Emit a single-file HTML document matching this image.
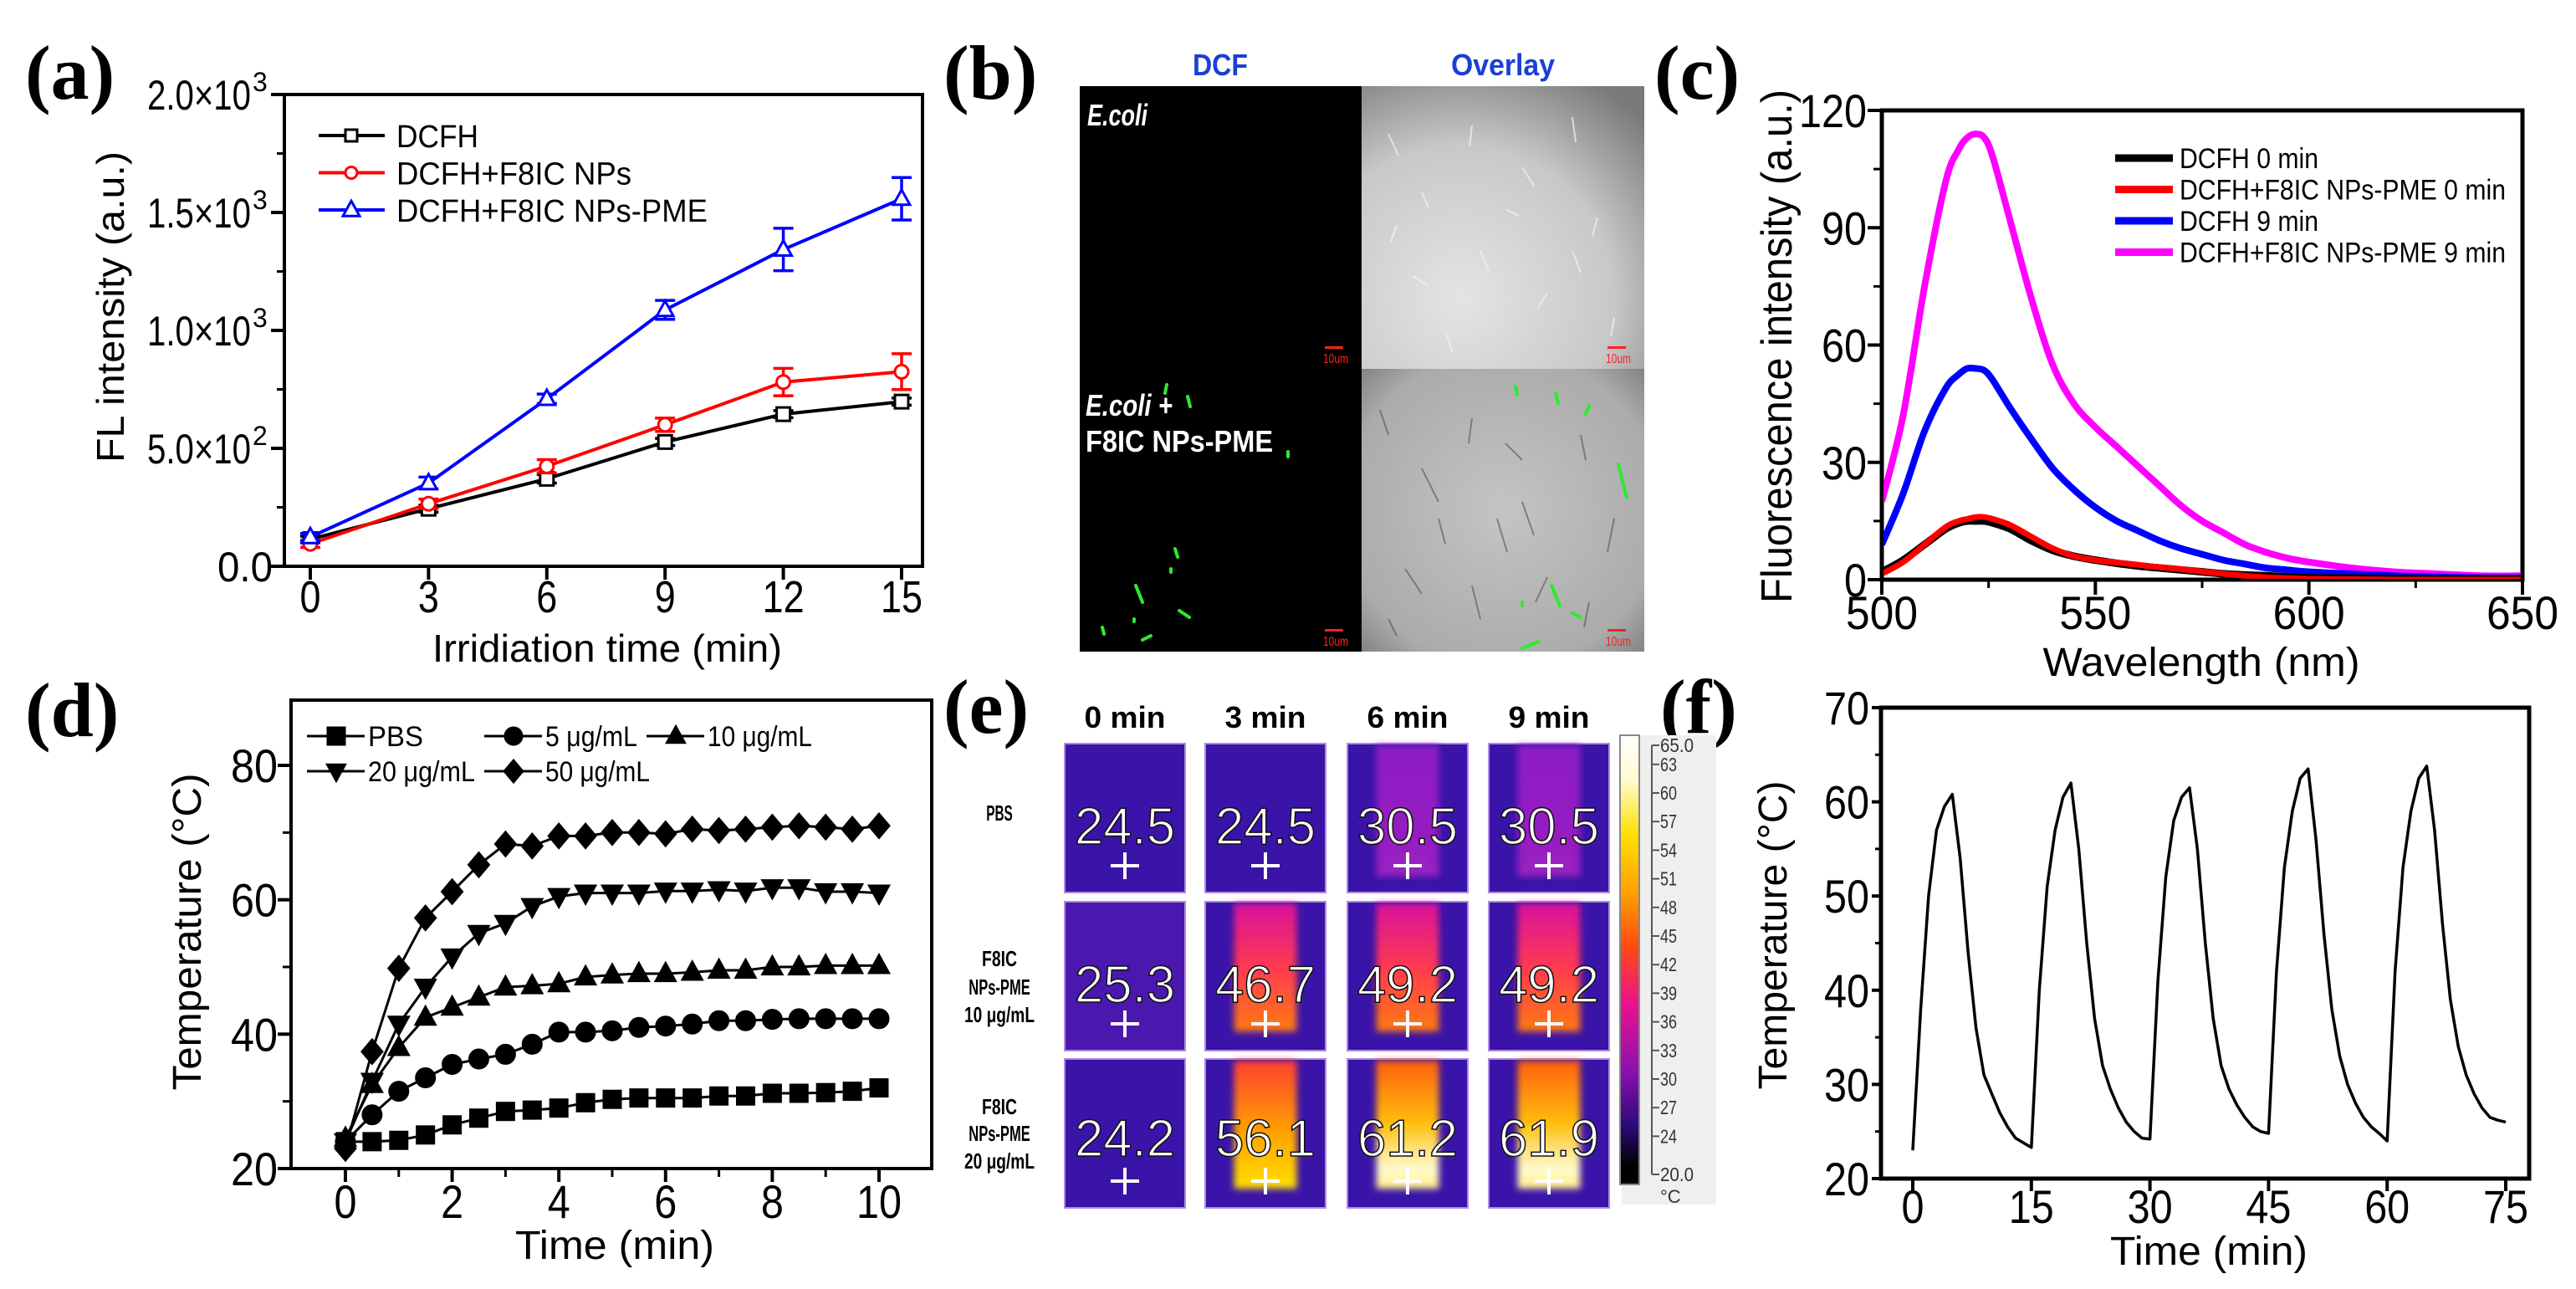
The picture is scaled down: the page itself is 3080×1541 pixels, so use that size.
<!DOCTYPE html>
<html><head><meta charset="utf-8"><style>
html,body{margin:0;padding:0;background:#fff;}
svg{display:block;}
text{font-family:"Liberation Sans Narrow","Liberation Sans",sans-serif;}
.pl{font-family:"Liberation Serif",serif;font-weight:bold;font-size:92px;}
.wide{font-family:"Liberation Sans",sans-serif;}
</style></head><body>
<svg id="fig" xmlns="http://www.w3.org/2000/svg" width="3080" height="1541" viewBox="0 0 3080 1541">
<defs>
<radialGradient id="ovTop" cx="0.35" cy="0.75" r="0.9"><stop offset="0" stop-color="#e4e4e4"/><stop offset="0.6" stop-color="#c8c8c8"/><stop offset="1" stop-color="#7a7a7a"/></radialGradient>
<radialGradient id="ovBot" cx="0.5" cy="0.5" r="0.8"><stop offset="0" stop-color="#c4c4c4"/><stop offset="0.7" stop-color="#ababab"/><stop offset="1" stop-color="#6a6a6a"/></radialGradient>
<linearGradient id="cbar" x1="0" y1="0" x2="0" y2="1">
<stop offset="0" stop-color="#ffffff"/><stop offset="0.1" stop-color="#fffbd0"/><stop offset="0.22" stop-color="#ffe000"/><stop offset="0.36" stop-color="#ff9a00"/><stop offset="0.47" stop-color="#ff4a10"/><stop offset="0.6" stop-color="#e8128e"/><stop offset="0.75" stop-color="#8a10b0"/><stop offset="0.87" stop-color="#2c0a78"/><stop offset="0.96" stop-color="#000000"/><stop offset="1" stop-color="#000000"/></linearGradient>
<linearGradient id="s1" x1="0" y1="0" x2="0" y2="1"><stop offset="0" stop-color="#8c1cc4"/><stop offset="1" stop-color="#9a20c0"/></linearGradient>
<linearGradient id="s2" x1="0" y1="0" x2="0" y2="1"><stop offset="0" stop-color="#d8129c"/><stop offset="0.5" stop-color="#ff3a50"/><stop offset="1" stop-color="#ff7a10"/></linearGradient>
<linearGradient id="s3" x1="0" y1="0" x2="0" y2="1"><stop offset="0" stop-color="#ff4030"/><stop offset="0.55" stop-color="#ffa000"/><stop offset="1" stop-color="#ffe000"/></linearGradient>
<linearGradient id="s4" x1="0" y1="0" x2="0" y2="1"><stop offset="0" stop-color="#ff6010"/><stop offset="0.5" stop-color="#ffc010"/><stop offset="0.85" stop-color="#fffbd0"/><stop offset="1" stop-color="#fff080"/></linearGradient>
<filter id="blur" x="-20%" y="-20%" width="140%" height="140%"><feGaussianBlur stdDeviation="4"/></filter>
<clipPath id="pa"><rect x="342" y="115" width="760" height="560"/></clipPath>
<clipPath id="pc"><rect x="2252" y="134" width="762" height="558"/></clipPath>
</defs>

<text class="pl" x="30" y="118">(a)</text>
<text class="pl" x="1128" y="118">(b)</text>
<text class="pl" x="1978" y="118">(c)</text>
<text class="pl" x="30" y="880">(d)</text>
<text class="pl" x="1128" y="876">(e)</text>
<text class="pl" x="1985" y="876">(f)</text>

<g id="ga">
<rect x="340" y="113" width="763" height="564" fill="none" stroke="#000" stroke-width="4"/>
<text class="wide" transform="translate(148,367) rotate(-90)" text-anchor="middle" font-size="46" textLength="372" lengthAdjust="spacingAndGlyphs">FL intensity (a.u.)</text>
<text x="726" y="791" text-anchor="middle" font-size="46" textLength="418" lengthAdjust="spacingAndGlyphs">Irridiation time (min)</text>
</g>

<g>
<text x="1459" y="90" text-anchor="middle" font-size="36" font-weight="bold" fill="#1a3fd8" textLength="66" lengthAdjust="spacingAndGlyphs">DCF</text>
<text x="1797" y="90" text-anchor="middle" font-size="36" font-weight="bold" fill="#1a3fd8" textLength="124" lengthAdjust="spacingAndGlyphs">Overlay</text>
<rect x="1291" y="103" width="337" height="338" fill="#000"/>
<rect x="1628" y="103" width="338" height="338" fill="url(#ovTop)"/>
<rect x="1291" y="441" width="337" height="338" fill="#000"/>
<rect x="1628" y="441" width="338" height="338" fill="url(#ovBot)"/>
<g stroke="#f4f4f4" stroke-width="2" opacity="0.7">
<path d="M1660 160l12 26M1700 230l8 18M1760 150l-3 25M1820 200l14 22M1880 140l4 30M1910 260l-6 22M1690 330l18 12M1770 300l10 24M1850 350l-12 20M1730 400l6 20M1930 380l-4 22M1670 270l-8 20M1800 250l16 8M1880 300l10 26"/>
</g>
<g stroke="#555" stroke-width="2" opacity="0.6">
<path d="M1650 490l10 30M1700 560l20 40M1760 500l-4 30M1820 600l14 40M1890 520l6 30M1930 620l-8 40M1680 680l20 30M1760 700l10 40M1850 690l-14 30M1720 620l8 30M1800 530l20 20M1660 740l10 20M1900 720l-6 30M1790 620l12 40"/>
</g>
<g stroke="#2eea2e" stroke-width="4" stroke-linecap="round">
<path d="M1395 460l-2 10M1420 474l3 12M1405 656l3 10M1358 700l8 20M1410 730l12 8M1318 750l2 8M1366 765l10 -5M1356 740l0 3M1400 680l0 4M1540 540l0 6"/>
<path d="M1812 462l2 10M1860 470l3 12M1900 485l-4 10M1855 700l10 24M1880 733l10 5M1820 720l0 4M1820 775l20 -8M1935 555l10 40"/>
</g>
<text x="1300" y="150" font-size="36" font-weight="bold" font-style="italic" fill="#fff" textLength="72" lengthAdjust="spacingAndGlyphs">E.coli</text>
<text x="1298" y="497" font-size="36" font-weight="bold" font-style="italic" fill="#fff" textLength="104" lengthAdjust="spacingAndGlyphs">E.coli +</text>
<text x="1298" y="540" font-size="36" font-weight="bold" fill="#fff" textLength="224" lengthAdjust="spacingAndGlyphs">F8IC NPs-PME</text>
<g fill="#ff2020" font-size="16">
<rect x="1584" y="414" width="22" height="3"/><text x="1582" y="434" textLength="30" lengthAdjust="spacingAndGlyphs">10um</text>
<rect x="1922" y="414" width="22" height="3"/><text x="1920" y="434" textLength="30" lengthAdjust="spacingAndGlyphs">10um</text>
<rect x="1584" y="752" width="22" height="3"/><text x="1582" y="772" textLength="30" lengthAdjust="spacingAndGlyphs">10um</text>
<rect x="1922" y="752" width="22" height="3"/><text x="1920" y="772" textLength="30" lengthAdjust="spacingAndGlyphs">10um</text>
</g>
</g>

<g id="gc">
<rect x="2250" y="132" width="766" height="561" fill="none" stroke="#000" stroke-width="5"/>
<text class="wide" transform="translate(2142,414) rotate(-90)" text-anchor="middle" font-size="52" textLength="614" lengthAdjust="spacingAndGlyphs">Fluorescence intensity (a.u.)</text>
<text x="2632" y="808" text-anchor="middle" font-size="48" textLength="379" lengthAdjust="spacingAndGlyphs">Wavelength (nm)</text>
</g>

<g id="gd">
<rect x="348" y="837" width="766" height="560" fill="none" stroke="#000" stroke-width="4"/>
<text class="wide" transform="translate(240,1114) rotate(-90)" text-anchor="middle" font-size="48" textLength="379" lengthAdjust="spacingAndGlyphs">Temperature (°C)</text>
<text x="735" y="1505" text-anchor="middle" font-size="48" textLength="238" lengthAdjust="spacingAndGlyphs">Time (min)</text>
</g>

<g id="ge">
<rect x="1939" y="879" width="113" height="561" fill="#efefef"/>
<rect x="1937" y="879" width="23" height="537" fill="url(#cbar)" stroke="#888" stroke-width="2"/>
<line x1="1975" y1="891" x2="1975" y2="1404" stroke="#555" stroke-width="2"/>
<text x="1985" y="1438" font-size="22" fill="#333">°C</text>
</g>

<g id="gf">
<rect x="2249" y="846" width="775" height="563" fill="none" stroke="#000" stroke-width="5"/>
<text class="wide" transform="translate(2136,1118) rotate(-90)" text-anchor="middle" font-size="48" textLength="369" lengthAdjust="spacingAndGlyphs">Temperature (°C)</text>
<text x="2641" y="1512" text-anchor="middle" font-size="48" textLength="236" lengthAdjust="spacingAndGlyphs">Time (min)</text>
</g>
</svg>

<script>
// ---------- data: panel a ----------
var aTimes = [0, 3, 6, 9, 12, 15];
var aDCFH = [115, 244, 371, 527, 645, 698];
var aDCFHerr = [12, 15, 18, 15, 15, 15];
var aNPs = [95, 265, 424, 600, 781, 825];
var aNPsErr = [15, 20, 28, 28, 58, 76];
var aPME = [124, 353, 710, 1087, 1343, 1558];
var aPMEerr = [15, 25, 20, 40, 90, 90];
var aXTicks = [0, 3, 6, 9, 12, 15];
var aYTicks = [0, 500, 1000, 1500, 2000];
var aYTickLabels = ['0.0', '5.0×10', '1.0×10', '1.5×10', '2.0×10'];
var aYTickExp = ['', '2', '3', '3', '3'];

// ---------- data: panel c ----------
var cWl = [500,505,510,515,518,520,522,524,526,530,535,540,545,550,555,560,565,570,575,580,585,590,595,600,610,620,630,640,650];
var cPME9 = [20,42,75,102,110,113,114,113,108,92,72,55,45,39,34,29,24,19,15,12,9,7,5.5,4.5,3,2,1.5,1,1];
var cDCFH9 = [9,22,38,49,52.5,54,54,53.5,51,44,36,28.5,23,18.5,15,12.5,10,8,6.5,5,4,3,2.5,2,1.5,1,0.7,0.5,0.5];
var cDCFH0 = [2,5,9,13,14.5,15,15,15,14.5,13,10,7.5,6,5,4.2,3.5,3,2.5,2,1.5,1.2,1,0.7,0.5,0.4,0.3,0.2,0.2,0.2];
var cPME0 = [1.5,4.5,9,13.5,15,15.5,16,16,15.5,14,11,8,6,5,4.4,3.8,3.2,2.7,2.1,1.5,1,0.6,0.4,0.2,0.1,0,0,0,0];
var cXTicks = [500, 550, 600, 650];
var cYTicks = [0, 30, 60, 90, 120];

// ---------- data: panel d ----------
var dTimes = [0,0.5,1,1.5,2,2.5,3,3.5,4,4.5,5,5.5,6,6.5,7,7.5,8,8.5,9,9.5,10];
var dPBS = [24,24,24.2,25,26.5,27.5,28.5,28.7,29,29.8,30.3,30.5,30.5,30.5,30.8,30.8,31.2,31.2,31.3,31.5,32];
var d5 = [24,28,31.5,33.5,35.5,36.3,37,38.5,40.3,40.3,40.5,41,41.2,41.5,42,42,42.2,42.3,42.3,42.3,42.3];
var d10 = [24.5,32.5,38,42.5,44,45.5,47,47.2,47.5,48.5,48.8,49,49,49.2,49.5,49.5,50,50,50.2,50.2,50.2];
var d20 = [24,33,41.5,47,51.5,55,56.5,59,60.5,61,61,61,61.3,61.3,61.5,61.3,61.8,61.8,61.2,61.2,61];
var d50 = [23,37.4,49.8,57.3,61.2,65.2,68.3,68,69.5,69.5,70,70,69.8,70.5,70.3,70.5,70.8,71,70.8,70.5,71];
var dXTicks = [0, 2, 4, 6, 8, 10];
var dYTicks = [20, 40, 60, 80];

// ---------- data: panel e ----------
var eTimes = ['0 min', '3 min', '6 min', '9 min'];
var eGroups = ['PBS', 'F8IC NPs-PME 10 μg/mL', 'F8IC NPs-PME 20 μg/mL'];
var eTemps = [[24.5, 24.5, 30.5, 30.5], [25.3, 46.7, 49.2, 49.2], [24.2, 56.1, 61.2, 61.9]];
var eBarLabels = ['65.0','63','60','57','54','51','48','45','42','39','36','33','30','27','24','20.0'];
var eBarValues = [65,63,60,57,54,51,48,45,42,39,36,33,30,27,24,20];

// ---------- data: panel f ----------
var fTimes = [];
for (var t = 0; t <= 75; t++) fTimes.push(t);
var fTemps = [23,38,50,57,59.5,60.8,54,44,36,31,29,27,25.5,24.3,23.8,23.3,
  40,51,57,60.5,62,55,45,37,32,29.5,27.5,26,25,24.3,24.2,
  41,52,58,60.5,61.5,55,45,37,32,29.5,27.8,26.5,25.5,25,24.8,
  42,53,59,62.5,63.5,56,46,38,33,30,28,26.5,25.5,24.8,24,
  42,53,59,62.5,63.8,57,47,39,34,31,29,27.5,26.5,26.2,26];
var fXTicks = [0, 15, 30, 45, 60, 75];
var fYTicks = [20, 30, 40, 50, 60, 70];

var NS = 'http://www.w3.org/2000/svg';
var svg = document.getElementById('fig');
function mk(tag, attrs, parent) {
  var el = document.createElementNS(NS, tag);
  for (var k in attrs) el.setAttribute(k, attrs[k]);
  (parent || svg).appendChild(el);
  return el;
}
function label(parent, x, y, str, fs, anchor, name, fitW) {
  var el = mk('text', {x: x, y: y, 'font-size': fs, 'text-anchor': anchor}, parent);
  el.textContent = str;
  if (fitW) { el.setAttribute('textLength', fitW); el.setAttribute('lengthAdjust', 'spacingAndGlyphs'); }
  
  
  return el;
}
function polyline(parent, xs, ys, sx, sy, color, w, name, clip) {
  var pts = [];
  for (var i = 0; i < xs.length; i++) pts.push(sx(xs[i]).toFixed(1) + ',' + sy(ys[i]).toFixed(1));
  var el = mk('polyline', {points: pts.join(' '), fill: 'none', stroke: color, 'stroke-width': w, 'stroke-linejoin': 'round'}, parent);
  if (clip) el.setAttribute('clip-path', clip);
  
  
  return el;
}
function smooth(parent, xs, ys, sx, sy, color, w, name, clip) {
  var P = xs.map(function (x, i) { return [sx(x), sy(ys[i])]; });
  var d = 'M' + P[0][0].toFixed(1) + ' ' + P[0][1].toFixed(1);
  for (var i = 0; i < P.length - 1; i++) {
    var p0 = P[Math.max(0, i - 1)], p1 = P[i], p2 = P[i + 1], p3 = P[Math.min(P.length - 1, i + 2)];
    var c1x = p1[0] + (p2[0] - p0[0]) / 6, c1y = p1[1] + (p2[1] - p0[1]) / 6;
    var c2x = p2[0] - (p3[0] - p1[0]) / 6, c2y = p2[1] - (p3[1] - p1[1]) / 6;
    d += 'C' + c1x.toFixed(1) + ' ' + c1y.toFixed(1) + ' ' + c2x.toFixed(1) + ' ' + c2y.toFixed(1) + ' ' + p2[0].toFixed(1) + ' ' + p2[1].toFixed(1);
  }
  var el = mk('path', {d: d, fill: 'none', stroke: color, 'stroke-width': w, 'stroke-linejoin': 'round'}, parent);
  if (clip) el.setAttribute('clip-path', clip);
  
  
  return el;
}
function marker(parent, shape, cx, cy, r, fill, stroke, sw, name) {
  var el;
  if (shape === 'square') el = mk('rect', {x: cx - r, y: cy - r, width: 2 * r, height: 2 * r}, parent);
  else if (shape === 'circle') el = mk('circle', {cx: cx, cy: cy, r: r}, parent);
  else {
    var p;
    if (shape === 'up') p = [[0, -1.2], [1.1, 0.8], [-1.1, 0.8]];
    else if (shape === 'down') p = [[0, 1.2], [1.1, -0.8], [-1.1, -0.8]];
    else p = [[0, -1.3], [1.1, 0], [0, 1.3], [-1.1, 0]];
    el = mk('polygon', {points: p.map(function (q) { return (cx + q[0] * r).toFixed(1) + ',' + (cy + q[1] * r).toFixed(1); }).join(' ')}, parent);
  }
  el.setAttribute('fill', fill); el.setAttribute('stroke', stroke); el.setAttribute('stroke-width', sw);
  
  
  return el;
}
function tick(parent, x1, y1, x2, y2, w, name) {
  var el = mk('line', {x1: x1, y1: y1, x2: x2, y2: y2, stroke: '#000', 'stroke-width': w}, parent);
  
  
}

// ================= Panel A =================
(function () {
  var g = document.getElementById('ga');
  var sx = function (v) { return 371 + v / 15 * 707; };
  var sy = function (v) { return 677 - v / 2000 * 564; };
  aXTicks.forEach(function (v) {
    tick(g, sx(v), 677, sx(v), 693, 4, 'x-tick-a');
    label(g, sx(v), 732, String(v), 54, 'middle', 'x-tick-label-a', String(v).length * 25);
  });
  for (var m = 250; m < 2000; m += 500) tick(g, 340, sy(m), 331, sy(m), 3, 'y-minor-tick-a');
  aYTicks.forEach(function (v, i) {
    tick(g, 340, sy(v), 324, sy(v), 4, 'y-tick-a');
    var t = label(g, 300, sy(v) + 18, aYTickLabels[i], 50, 'end', 'y-tick-label-a');
    if (aYTickExp[i]) {
      t.setAttribute('textLength', 124); t.setAttribute('lengthAdjust', 'spacingAndGlyphs');
      label(g, 302, sy(v) - 4, aYTickExp[i], 32, 'start', 'y-tick-exponent-a');
    } else { t.setAttribute('x', 326); t.setAttribute('textLength', 66); t.setAttribute('lengthAdjust', 'spacingAndGlyphs'); }
  });
  var series = [
    {v: aDCFH, e: aDCFHerr, c: '#000', s: 'square', n: 'dcfh'},
    {v: aNPs, e: aNPsErr, c: '#ff0000', s: 'circle', n: 'dcfh-f8ic-nps'},
    {v: aPME, e: aPMEerr, c: '#0000ff', s: 'up', n: 'dcfh-f8ic-nps-pme'}
  ];
  series.forEach(function (S) {
    polyline(g, aTimes, S.v, sx, sy, S.c, 4, 'line-' + S.n);
    aTimes.forEach(function (t, i) {
      var x = sx(t), y1 = sy(S.v[i] + S.e[i]), y2 = sy(S.v[i] - S.e[i]);
      var eb = mk('path', {d: 'M' + x + ' ' + y1 + 'V' + y2 + 'M' + (x - 12) + ' ' + y1 + 'H' + (x + 12) + 'M' + (x - 12) + ' ' + y2 + 'H' + (x + 12), stroke: S.c, 'stroke-width': 3.5, fill: 'none'}, g);
      
      
      marker(g, S.s, x, sy(S.v[i]), S.s === 'up' ? 9 : 8, '#fff', S.c, 3, 'point-' + S.n);
    });
  });
  var leg = [['DCFH', '#000', 'square', 98], ['DCFH+F8IC NPs', '#ff0000', 'circle', 281], ['DCFH+F8IC NPs-PME', '#0000ff', 'up', 372]];
  leg.forEach(function (L, i) {
    var y = 162 + i * 44.5;
    tick(g, 381, y, 460, y, 4, 'legend-line-a');
    g.lastChild.setAttribute('stroke', L[1]);
    marker(g, L[2], 420, y, L[2] === 'up' ? 9 : 7, '#fff', L[1], 3, 'legend-marker-a');
    label(g, 474, y + 14, L[0], 38, 'start', 'legend-entry-a', L[3]);
  });
})();

// ================= Panel C =================
(function () {
  var g = document.getElementById('gc');
  var sx = function (v) { return 2250 + (v - 500) / 150 * 766; };
  var sy = function (v) { return 693 - v / 120 * 561; };
  cXTicks.forEach(function (v) {
    tick(g, sx(v), 693, sx(v), 711, 4, 'x-tick-c');
    label(g, sx(v), 752, String(v), 56, 'middle', 'x-tick-label-c', 86);
  });
  for (var m = 525; m < 650; m += 50) tick(g, sx(m), 693, sx(m), 703, 3, 'x-minor-tick-c');
  cYTicks.forEach(function (v) {
    tick(g, 2250, sy(v), 2233, sy(v), 4, 'y-tick-c');
    label(g, 2232, sy(v) + 20, String(v), 56, 'end', 'y-tick-label-c', String(v).length * 27);
  });
  for (var k = 15; k < 120; k += 30) tick(g, 2250, sy(k), 2240, sy(k), 3, 'y-minor-tick-c');
  smooth(g, cWl, cPME9, sx, sy, '#ff00ff', 8, 'line-dcfh-pme-9min', 'url(#pc)');
  smooth(g, cWl, cDCFH9, sx, sy, '#0000ff', 8, 'line-dcfh-9min', 'url(#pc)');
  smooth(g, cWl, cDCFH0, sx, sy, '#000', 9, 'line-dcfh-0min', 'url(#pc)');
  smooth(g, cWl, cPME0, sx, sy, '#ff0000', 7, 'line-dcfh-pme-0min', 'url(#pc)');
  var leg = [['DCFH 0 min', '#000', 166], ['DCFH+F8IC NPs-PME 0 min', '#ff0000', 390], ['DCFH 9 min', '#0000ff', 166], ['DCFH+F8IC NPs-PME 9 min', '#ff00ff', 390]];
  leg.forEach(function (L, i) {
    var y = 189 + i * 37.5;
    tick(g, 2529, y, 2598, y, 9, 'legend-line-c');
    g.lastChild.setAttribute('stroke', L[1]);
    label(g, 2606, y + 12, L[0], 34, 'start', 'legend-entry-c', L[2]);
  });
})();

// ================= Panel D =================
(function () {
  var g = document.getElementById('gd');
  var sx = function (v) { return 413 + v / 10 * 638; };
  var sy = function (v) { return 1397 - (v - 20) / 60 * 482; };
  dXTicks.forEach(function (v) {
    tick(g, sx(v), 1397, sx(v), 1413, 4, 'x-tick-d');
    label(g, sx(v), 1456, String(v), 56, 'middle', 'x-tick-label-d', String(v).length * 27);
  });
  for (var m = 1; m < 10; m += 2) tick(g, sx(m), 1397, sx(m), 1407, 3, 'x-minor-tick-d');
  dYTicks.forEach(function (v) {
    tick(g, 348, sy(v), 332, sy(v), 4, 'y-tick-d');
    label(g, 332, sy(v) + 20, String(v), 56, 'end', 'y-tick-label-d', 56);
  });
  for (var k = 30; k < 90; k += 20) tick(g, 348, sy(k), 338, sy(k), 3, 'y-minor-tick-d');
  var series = [[dPBS, 'square', 'pbs', 11], [d5, 'circle', '5ugml', 12], [d10, 'up', '10ugml', 12], [d20, 'down', '20ugml', 12], [d50, 'diamond', '50ugml', 12]];
  series.forEach(function (S) {
    polyline(g, dTimes, S[0], sx, sy, '#000', 3, 'line-' + S[2]);
    dTimes.forEach(function (t, i) { marker(g, S[1], sx(t), sy(S[0][i]), S[3], '#000', '#000', 1, 'point-' + S[2]); });
  });
  var leg = [['PBS', 'square', 367, 880, 66], ['5 μg/mL', 'circle', 579, 880, 110], ['10 μg/mL', 'up', 773, 880, 125], ['20 μg/mL', 'down', 367, 922, 128], ['50 μg/mL', 'diamond', 579, 922, 125]];
  leg.forEach(function (L) {
    tick(g, L[2], L[3], L[2] + 69, L[3], 3, 'legend-line-d');
    marker(g, L[1], L[2] + 35, L[3], 11, '#000', '#000', 1, 'legend-marker-d');
    label(g, L[2] + 73, L[3] + 12, L[0], 34, 'start', 'legend-entry-d', L[4]);
  });
})();

// ================= Panel E =================
(function () {
  var g = document.getElementById('ge');
  var cx = [1273, 1441, 1611, 1780], cy = [889, 1078, 1266], cw = 144, ch = 178;
  eTimes.forEach(function (t, j) {
    var h = label(g, cx[j] + cw / 2, 870, t, 36, 'middle', 'time-header-e', 97);
    h.setAttribute('font-weight', 'bold');
  });
  var rl = [[['PBS', 972]], [['F8IC', 1146], ['NPs-PME', 1180], ['10 μg/mL', 1213]], [['F8IC', 1323], ['NPs-PME', 1355], ['20 μg/mL', 1388]]];
  rl.forEach(function (lines) {
    lines.forEach(function (L) {
      var t = label(g, 1195, L[1] + 9, L[0], 26, 'middle', 'group-label-e', L[0].length * 10.5);
      t.setAttribute('font-family', 'Liberation Serif, serif');
      t.setAttribute('font-weight', 'bold');
    });
  });
  eTemps.forEach(function (row, i) {
    row.forEach(function (temp, j) {
      var x = cx[j], y = cy[i];
      var base = mk('rect', {x: x, y: y, width: cw, height: ch, fill: '#3a14a8', stroke: '#b088e0', 'stroke-width': 2}, g);
      
      
      var grad = null;
      if (temp >= 58) grad = 's4'; else if (temp >= 53) grad = 's3'; else if (temp >= 40) grad = 's2'; else if (temp >= 28) grad = 's1';
      if (temp < 28 && temp > 25) base.setAttribute('fill', '#4a18ae');
      if (grad) {
        var st = mk('rect', {x: x + cw * 0.24, y: y + 2, width: cw * 0.52, height: ch * (grad === 's1' ? 0.88 : 0.86), fill: 'url(#' + grad + ')', filter: 'url(#blur)'}, g);
        
        
      }
      var v = label(g, x + cw / 2, y + 120 - (i === 2 ? 4 : 0), temp.toFixed(1), 62, 'middle', 'temperature-value', 120);
      v.setAttribute('fill', '#fff'); v.setAttribute('stroke', '#111'); v.setAttribute('stroke-width', 1.5);
      v.setAttribute('font-family', 'Liberation Sans, sans-serif');
      var px = x + cw / 2, py = y + 146;
      var c = mk('path', {d: 'M' + (px - 17) + ' ' + py + 'H' + (px + 17) + 'M' + px + ' ' + (py - 16) + 'V' + (py + 16), stroke: '#fff', 'stroke-width': 4}, g);
      
      
    });
  });
  var by = function (v) { return 1404 - (v - 20) / 45 * 513; };
  eBarValues.forEach(function (v, i) {
    tick(g, 1975, by(v), 1984, by(v), 2, 'colorbar-tick');
    g.lastChild.setAttribute('stroke', '#555');
    var t = label(g, 1985, by(v) + 8, eBarLabels[i], 23, 'start', 'colorbar-tick-label', eBarLabels[i].length * 10);
    t.setAttribute('fill', '#333');
  });
})();

// ================= Panel F =================
(function () {
  var g = document.getElementById('gf');
  var sx = function (v) { return 2287 + v / 75 * 709; };
  var sy = function (v) { return 1409 - (v - 20) / 50 * 563; };
  fXTicks.forEach(function (v) {
    tick(g, sx(v), 1409, sx(v), 1424, 4, 'x-tick-f');
    label(g, sx(v), 1462, String(v), 56, 'middle', 'x-tick-label-f', String(v).length * 27);
  });
  fYTicks.forEach(function (v) {
    tick(g, 2249, sy(v), 2238, sy(v), 4, 'y-tick-f');
    label(g, 2235, sy(v) + 20, String(v), 56, 'end', 'y-tick-label-f', 54);
  });
  for (var k = 25; k < 70; k += 10) tick(g, 2249, sy(k), 2242, sy(k), 3, 'y-minor-tick-f');
  polyline(g, fTimes, fTemps, sx, sy, '#000', 3.5, 'line-heating-cooling-cycles');
})();
</script>
</body></html>
